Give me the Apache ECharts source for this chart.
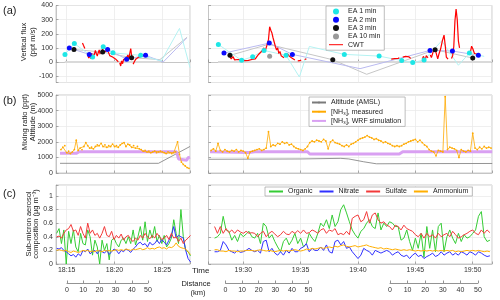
<!DOCTYPE html>
<html><head><meta charset="utf-8">
<script src="https://cdn.jsdelivr.net/npm/echarts@6/dist/echarts.min.js"></script>
<style>html,body{margin:0;padding:0;background:#fff}#c{width:500px;height:300px}</style>
</head><body><div id="c"></div><script>
const FONT = "'Liberation Sans', Arial, Helvetica, sans-serif";

// ---------- axes (time in minutes after 18:00) ----------
const xRangeLeft = [13.88, 27.9];
const xRangeRight = [86.97, 111.68];
const distanceTicks = [0, 10, 20, 30, 40, 50];

// ---------- (a) vertical flux [t, value, hasMarker] ----------
const ea1Left = [[14.82,54,1],[15.80,131,1],[17.71,35,1],[18.82,108,1],[19.84,65,1],[22.74,47,1],[24.9,7,0],[26.8,238,0],[27.9,-40,0]];
const ea2Left = [[15.27,99,1],[17.36,54,1],[19.28,89,1],[21.27,20,1],[23.25,47,1],[25.1,0,0],[27.55,170,0]];
const ea3Left = [[15.76,89,1],[18.76,70,1],[21.79,31,1],[24.75,17,0],[27.6,176,0]];
const ea1Right = [[87.83,124,1],[89.86,12,1],[90.82,38,1],[91.81,82,1],[93.73,47,1],[94.89,-106,0],[95.76,110,0],[98.81,54,1],[101.84,42,1],[103.81,10,1],[104.77,-4,1],[105.76,14,1],[107.3,150,0],[108.75,-23,0],[109.71,63,1],[111.0,40,0]];
const ea2Right = [[88.32,63,1],[92.27,134,1],[94.28,54,1],[100.18,-47,0],[106.28,82,1],[108.23,78,1],[110.49,47,1]];
const ea3Right = [[88.84,47,1],[92.2,125,0],[97.8,16,1],[100.76,-87,0],[106.72,87,1],[110.0,28,1]];
const ea10Right = [[92.3,41]];
const zeroLeft = [[14.8,0],[24.9,0]];
const zeroRight = [[87.8,0],[111.6,0]];
const cwtLeft = [
  [[16.65,135],[16.75,118],[16.9,95]],
  [[17.2,60],[17.3,28],[17.4,50],[17.5,25],[17.6,62],[17.7,40],[17.8,30],[17.9,55],[18.0,82],[18.1,60],[18.2,42],[18.3,66],[18.4,85],[18.5,55]],
  [[18.65,75],[18.75,92],[18.9,68],[19.0,58],[19.15,80]],
  [[19.35,72],[19.5,45],[19.65,55],[19.8,35],[19.95,42],[20.1,22],[20.25,15],[20.4,2]],
  [[20.55,-5],[20.65,-28],[20.75,8],[20.85,-12],[20.95,18],[21.1,8],[21.25,28],[21.4,50],[21.5,20],[21.6,62],[21.7,95],[21.8,40]],
  [[21.95,-15],[22.1,5],[22.25,22],[22.4,10],[22.55,35],[22.7,25],[22.85,42],[23.0,30],[23.15,48]]
];
const cwtRight = [
  [[88.8,42],[88.95,22],[89.1,38],[89.25,15],[89.4,28],[89.55,18],[89.7,32],[89.85,14],[90.0,22],[90.15,10],[90.3,18],[90.45,12],[90.6,25],[90.75,18],[90.9,30],[91.05,22],[91.2,40],[91.35,55],[91.5,48],[91.65,80],[91.8,100],[91.9,75],[92.05,115],[92.2,160],[92.3,250],[92.4,225],[92.5,205],[92.6,170],[92.7,140],[92.8,110],[92.9,85],[93.0,100],[93.1,60],[93.2,75],[93.3,45],[93.45,55],[93.55,30]],
  [[93.85,60],[94.0,42],[94.1,55],[94.2,30],[94.35,38],[94.5,15]],
  [[94.75,8],[94.9,22],[95.05,12]],
  [[95.35,18],[95.5,22]],
  [[102.9,20],[103.05,32],[103.2,24],[103.35,36],[103.5,26],[103.6,30]],
  [[103.9,35],[104.0,48],[104.15,40],[104.3,52],[104.45,36],[104.6,26]],
  [[105.6,20],[105.7,40],[105.85,12],[105.95,45],[106.1,30]],
  [[106.3,50],[106.4,32],[106.55,72],[106.7,98],[106.85,52],[106.95,22],[107.05,55],[107.2,92],[107.35,150],[107.5,190],[107.6,120],[107.7,35],[107.85,20]],
  [[108.15,25],[108.25,45],[108.35,110],[108.45,290],[108.55,375],[108.65,300],[108.75,150],[108.85,100]],
  [[109.8,70],[109.9,112],[110.0,96],[110.15,60],[110.3,50],[110.45,55]]
];

// ---------- (b) mixing ratio / altitude ----------
const altLeft = [[14.3,620],[24.6,620],[27.9,1700]];
const altRight = [[87.0,880],[95.0,900],[98.5,940],[99.2,900],[100.5,720],[101.6,590],[105.0,600],[111.7,610]];
const wrfLeft = [[14.3,1260],[16.0,1260],[16.3,1360],[26.5,1360],[26.7,900],[26.9,820],[27.55,820],[27.7,980],[27.9,1020]];
const wrfRight = [[87.1,1360],[90.5,1320],[91.0,1360],[95.6,1360],[95.8,1220],[103.6,1220],[103.9,1360],[111.7,1360]];
const nh3LeftStart = 14.4, nh3Step = 0.2;
const nh3Left = [1500,1650,1750,1300,1400,1250,1350,1500,2100,1450,
  1600,1500,1700,1950,1750,1600,1650,1550,1700,1800,
  1750,1900,1700,1800,1650,1750,1700,1850,1700,1750,
  1650,1800,1900,1950,1700,1850,1800,1650,1750,1600,
  1700,1550,1500,1400,1450,1350,1400,1300,1350,1400,
  1300,1350,1400,1350,1300,1250,1350,1300,1250,1300,
  1350,2000,1200,700,550,450,350,300];
const nh3RightStart = 87.2;
const nh3Right = [1450,1550,1400,1900,1450,1350,1500,1400,1350,1450,
  1400,1500,1350,1450,1400,1300,950,1350,1400,1450,
  1500,1550,1450,1500,1600,2650,1700,1800,1750,1900,
  1850,2000,1900,1950,1800,1850,1700,1600,1550,1500,
  1450,1550,1700,1950,2050,2000,2100,2050,2000,2150,
  2050,1550,2000,2100,1950,1900,1850,1750,1700,1800,
  1700,1850,1900,2000,2100,2200,2250,2300,2400,2300,
  2250,2150,2200,2100,2050,1950,2000,1900,1850,1750,
  1700,1750,1700,1750,1850,1900,2000,2050,2100,2150,
  2000,2100,1950,1800,1700,1500,1400,1350,1100,1450,
  1400,1350,4900,1500,1650,1600,1550,1450,1000,1500,
  1400,1350,1450,1400,2550,1600,1500,1650,1550,1700,
  1600,1650,1600];

// ---------- (c) aerosol composition ----------
const aeroLeftStart = 13.95, aeroRightStart = 87.5, aeroStep = 0.25;
const orgLeft = [0.45,0.52,0.3,0.5,0.0,0.48,0.3,0.5,0.25,0.18,
  0.45,0.3,0.28,0.5,0.4,0.13,0.35,0.25,0.0,0.35,
  0.2,0.3,0.06,0.35,0.38,0.3,0.25,0.35,0.38,0.3,
  0.4,0.3,0.5,0.28,0.4,0.55,0.35,0.62,0.33,0.5,
  0.38,0.55,0.33,0.42,0.3,0.42,0.25,0.3,0.38,0.65,
  0.45,0.3,0.8,0.4,0.2,0.18,0.12];
const nitLeft = [0.23,0.22,0.24,0.2,0.18,0.15,0.12,0.14,0.1,0.15,
  0.12,0.2,0.18,0.22,0.15,0.18,0.2,0.15,0.2,0.18,
  0.16,0.2,0.14,0.18,0.22,0.2,0.15,0.2,0.18,0.22,
  0.2,0.17,0.22,0.25,0.3,0.32,0.28,0.3,0.25,0.32,
  0.28,0.3,0.35,0.3,0.36,0.32,0.28,0.35,0.42,0.55,
  0.38,0.42,0.4,0.38,0.2,0.08,0.03];
const sulLeft = [0.4,0.41,0.38,0.45,0.5,0.52,0.58,0.48,0.5,0.42,
  0.55,0.45,0.38,0.6,0.45,0.5,0.42,0.45,0.38,0.45,
  0.55,0.42,0.4,0.48,0.36,0.42,0.38,0.44,0.35,0.4,
  0.42,0.36,0.33,0.38,0.35,0.42,0.38,0.45,0.4,0.37,
  0.42,0.38,0.45,0.4,0.36,0.38,0.42,0.36,0.45,0.38,
  0.4,0.33,0.38,0.3,0.35,0.38,0.42];
const ammLeft = [0.2,0.21,0.2,0.19,0.2,0.18,0.17,0.19,0.18,0.17,
  0.18,0.2,0.19,0.2,0.18,0.19,0.18,0.2,0.19,0.18,
  0.2,0.19,0.2,0.19,0.2,0.21,0.2,0.21,0.2,0.22,
  0.21,0.2,0.22,0.21,0.22,0.23,0.21,0.22,0.24,0.22,
  0.23,0.22,0.24,0.25,0.23,0.24,0.22,0.25,0.24,0.26,
  0.31,0.26,0.24,0.23,0.22,0.18,0.14];
const orgRight = [0.38,0.4,0.45,0.7,0.5,0.48,0.35,0.42,0.33,0.45,0.4,0.44,0.48,
  0.4,0.38,0.45,0.3,0.6,0.55,0.38,0.43,0.33,0.25,
  0.18,0.33,0.38,0.28,0.35,0.45,0.3,0.38,0.25,0.3,
  0.45,0.38,0.33,0.45,0.6,0.55,0.65,0.52,0.72,0.55,
  0.62,0.8,0.87,0.75,0.62,0.5,0.43,0.38,0.48,0.52,
  0.6,0.65,0.55,0.52,0.75,0.5,0.6,0.55,0.62,0.6,
  0.55,0.55,0.35,0.38,0.5,0.33,0.2,0.38,0.23,0.45,
  0.1,0.55,0.23,0.5,0.18,0.55,0.6,0.18,0.4,0.5,
  0.38,0.3,0.45,0.33,0.43,0.38,0.4,0.45,0.5,0.7,
  0.77,0.4,0.33,0.35];
const sulRight = [0.55,0.45,0.55,0.45,0.52,0.46,0.5,0.45,0.5,0.47,0.45,0.48,0.45,
  0.46,0.45,0.4,0.45,0.48,0.4,0.45,0.48,0.44,0.4,
  0.43,0.48,0.44,0.43,0.48,0.45,0.49,0.45,0.5,0.45,
  0.46,0.5,0.48,0.45,0.5,0.52,0.45,0.5,0.48,0.52,
  0.43,0.45,0.43,0.48,0.43,0.67,0.7,0.72,0.62,0.65,
  0.77,0.6,0.72,0.75,0.65,0.6,0.62,0.57,0.55,0.5,
  0.57,0.55,0.5,0.57,0.52,0.5,0.48,0.43,0.4,0.45,
  0.38,0.45,0.4,0.43,0.38,0.45,0.4,0.43,0.45,0.4,
  0.48,0.43,0.38,0.4,0.43,0.45,0.48,0.5,0.45,0.43,
  0.5,0.45,0.5,0.46];
const nitRight = [0.18,0.18,0.2,0.33,0.28,0.2,0.18,0.16,0.2,0.17,0.18,0.2,0.23,
  0.2,0.18,0.2,0.16,0.33,0.35,0.18,0.23,0.16,0.13,
  0.18,0.13,0.2,0.16,0.23,0.18,0.18,0.23,0.25,0.3,
  0.18,0.23,0.2,0.2,0.25,0.2,0.28,0.18,0.16,0.33,
  0.35,0.28,0.33,0.23,0.25,0.18,0.13,0.08,0.13,0.23,
  0.2,0.18,0.13,0.2,0.18,0.16,0.18,0.2,0.18,0.13,
  0.16,0.18,0.13,0.11,0.13,0.08,0.13,0.16,0.11,0.13,
  0.08,0.11,0.13,0.16,0.11,0.13,0.18,0.13,0.16,0.18,
  0.13,0.16,0.13,0.18,0.16,0.13,0.18,0.16,0.13,0.18,
  0.16,0.13,0.11,0.12];
const ammRight = [0.21,0.21,0.19,0.19,0.18,0.2,0.19,0.19,0.18,0.19,0.19,0.2,0.2,
  0.2,0.19,0.2,0.21,0.2,0.19,0.2,0.19,0.18,0.19,
  0.2,0.19,0.2,0.19,0.2,0.21,0.2,0.19,0.2,0.22,
  0.21,0.23,0.22,0.23,0.24,0.23,0.24,0.25,0.24,0.26,
  0.25,0.27,0.28,0.26,0.25,0.26,0.27,0.25,0.26,0.27,
  0.28,0.26,0.25,0.24,0.23,0.24,0.22,0.23,0.22,0.21,
  0.22,0.21,0.2,0.21,0.2,0.21,0.2,0.19,0.2,0.19,
  0.2,0.19,0.2,0.19,0.2,0.19,0.2,0.19,0.2,0.19,
  0.2,0.18,0.19,0.18,0.19,0.2,0.19,0.2,0.19,0.2,
  0.19,0.18,0.19,0.18];

// ---------- helpers ----------
const pts = a => a.map(p => [p[0], p[1]]);
const marks = a => a.filter(p => p[2]).map(p => [p[0], p[1]]);
const segs = list => { const o = []; list.forEach((s, i) => { if (i) o.push([null, null]); s.forEach(p => o.push(p)); }); return o; };
const regular = (t0, dt, vals) => vals.map((v, i) => [+(t0 + i * dt).toFixed(3), v]);

const C = {cyan:'#1ee6e6', cyanL:'#b4f2f2', blue:'#0a0aff', blueL:'#babaf0', black:'#111111', greyL:'#c6c6c6', grey10:'#9a9a9a', red:'#ff0000', zero:'#dadada',
  alt:'#7a7a7a', nh3:'#ffaa00', wrf:'#d9a0f2', org:'#35cc35', nit:'#3030ff', sul:'#f23a3a', amm:'#ffae00'};

const series = [];
function fluxSeries(g, ea1, ea2, ea3, ea10, cwt, zero) {
  const L = (name, data, color, w, z) => series.push({type:'line', name, xAxisIndex:g, yAxisIndex:g, data, symbol:'none', lineStyle:{color, width:w}, itemStyle:{color}, z, silent:true});
  L('zero'+g, zero, C.zero, 2, 1);
  L('ea3l'+g, pts(ea3), C.greyL, 1, 2);
  L('ea2l'+g, pts(ea2), C.blueL, 1, 2);
  L('ea1l'+g, pts(ea1), C.cyanL, 1, 2);
  L('CWT', segs(cwt), C.red, 1.2, 3);
  const S = (name, data, color) => series.push({type:'scatter', name, xAxisIndex:g, yAxisIndex:g, data, symbolSize:5, itemStyle:{color, opacity:1}, z:5});
  S('EA 1 min', marks(ea1), C.cyan);
  S('EA 2 min', marks(ea2), C.blue);
  S('EA 3 min', marks(ea3), C.black);
  S('EA 10 min', ea10, C.grey10);
}
fluxSeries(0, ea1Left, ea2Left, ea3Left, [], cwtLeft, zeroLeft);
fluxSeries(1, ea1Right, ea2Right, ea3Right, ea10Right, cwtRight, zeroRight);

const NH3M = '[NH\u2083], measured', NH3W = '[NH\u2083], WRF simulation', ALT = 'Altitude (AMSL)';
function mixSeries(g, alt, wrf, nh3) {
  series.push({type:'line', name:ALT, xAxisIndex:g, yAxisIndex:g, data:alt, symbol:'none', lineStyle:{color:C.alt, width:0.8}, itemStyle:{color:C.alt}, z:2});
  series.push({type:'line', name:NH3W, xAxisIndex:g, yAxisIndex:g, data:wrf, symbol:'none', lineStyle:{color:C.wrf, width:3}, itemStyle:{color:C.wrf}, z:3});
  series.push({type:'line', name:NH3M, xAxisIndex:g, yAxisIndex:g, data:nh3, symbol:'circle', symbolSize:1.8, showSymbol:true, lineStyle:{color:C.nh3, width:0.8}, itemStyle:{color:C.nh3}, z:4});
}
mixSeries(2, altLeft, wrfLeft, regular(nh3LeftStart, nh3Step, nh3Left));
mixSeries(3, altRight, wrfRight, regular(nh3RightStart, nh3Step, nh3Right));

const AERO = [['Organic', C.org], ['Nitrate', C.nit], ['Sulfate', C.sul], ['Ammonium', C.amm]];
function aeroSeries(g, t0, vals) {
  AERO.forEach(([n, c], k) =>
    series.push({type:'line', name:n, xAxisIndex:g, yAxisIndex:g, data:regular(t0, aeroStep, vals[k]), symbol:'none', lineStyle:{color:c, width:1}, itemStyle:{color:c}, z:2 + k}));
}
aeroSeries(4, aeroLeftStart, [orgLeft, nitLeft, sulLeft, ammLeft]);
aeroSeries(5, aeroRightStart, [orgRight, nitRight, sulRight, ammRight]);

// ---------- layout ----------
const colL = {left:56, width:134}, colR = {left:208.5, width:283.5};
const rows = [{top:5.5, height:77}, {top:95, height:78}, {top:185, height:79}];
const grids = [];
rows.forEach(r => { grids.push(Object.assign({}, colL, r)); grids.push(Object.assign({}, colR, r)); });
grids.forEach(g => { g.show = true; g.borderColor = '#bdbdbd'; g.borderWidth = 0.8; g.containLabel = false; });
grids.push({left:67, width:81, top:270, height:13, show:false});
grids.push({left:225.5, width:83, top:270, height:13, show:false});
grids.push({left:390, width:88, top:270, height:13, show:false});

const tickStyle = {show:true, inside:true, length:2.5, lineStyle:{color:'#8a8a8a', width:0.7}};
const splitStyle = {show:true, lineStyle:{color:'#ebebeb', width:0.8}};
const lineStyleAx = {show:true, lineStyle:{color:'#bdbdbd', width:0.8}};
const lab = {fontSize:7, color:'#333', fontFamily:FONT};

const timeFmt = v => { const r = Math.round(v); if (Math.abs(v - r) > 1e-6 || r % 5) return ''; const h = 18 + Math.floor(r / 60); return h + ':' + String(r % 60).padStart(2, '0'); };

const xAxis = [];
for (let i = 0; i < 6; i++) {
  const left = i % 2 === 0;
  const rng = left ? xRangeLeft : xRangeRight;
  xAxis.push({type:'value', gridIndex:i, min:rng[0], max:rng[1], splitNumber:left ? 3 : 5,
    axisLine:lineStyleAx, axisTick:tickStyle, splitLine:splitStyle,
    axisLabel:Object.assign({show:i >= 4, margin:3, formatter:timeFmt, showMinLabel:true, showMaxLabel:true, hideOverlap:false}, lab)});
}
[6, 7, 8].forEach(g => xAxis.push({type:'value', gridIndex:g, min:distanceTicks[0], max:distanceTicks[distanceTicks.length - 1], interval:distanceTicks[1] - distanceTicks[0],
  axisLine:{show:true, lineStyle:{color:'#777', width:0.8}}, axisTick:{show:true, inside:true, length:2.5, lineStyle:{color:'#777', width:0.8}},
  splitLine:{show:false}, axisLabel:Object.assign({margin:3.5, formatter:v => String(v)}, lab)}));

const fluxFmt = v => (Math.abs(v - Math.round(v)) < 1e-6 && Math.round(v) % 100 === 0) ? String(Math.round(v)) : '';
const aeroFmt = v => { const k = v * 5; return Math.abs(k - Math.round(k)) < 1e-6 ? String(+v.toFixed(1)) : ''; };
const yAxis = [];
for (let i = 0; i < 6; i++) {
  const row = Math.floor(i / 2), left = i % 2 === 0;
  const base = {type:'value', gridIndex:i, axisLine:lineStyleAx, axisTick:tickStyle, splitLine:splitStyle,
    axisLabel:Object.assign({show:left, margin:3}, lab)};
  if (row === 0) { Object.assign(base, {min:-145, max:400, splitNumber:5}); base.axisLabel.formatter = fluxFmt; }
  if (row === 1) { Object.assign(base, {min:0, max:5000, interval:1000}); base.axisLabel.formatter = v => String(Math.round(v)); }
  if (row === 2) { Object.assign(base, {min:0, max:1.16, interval:0.2}); base.axisLabel.formatter = aeroFmt; }
  yAxis.push(base);
}
[6, 7, 8].forEach(g => yAxis.push({type:'value', gridIndex:g, show:false}));

const LINE1 = 'path://M0,0L28,0L28,2L0,2Z';
const legBase = {selectedMode:false, backgroundColor:'#fff', borderColor:'#a0a0a0', borderWidth:0.7, borderRadius:0,
  itemWidth:14, textStyle:{fontSize:7, color:'#222', fontFamily:FONT}};
const legend = [
  Object.assign({}, legBase, {data:['EA 1 min', 'EA 2 min', 'EA 3 min', 'EA 10 min', {name:'CWT', icon:LINE1}], itemHeight:6, orient:'vertical', left:326, top:6, itemGap:1.3, padding:[2, 4, 2, 3]}),
  Object.assign({}, legBase, {data:[ALT, NH3M, NH3W], itemHeight:2.2, orient:'vertical', left:309, top:97, itemGap:2.2, padding:[2, 4, 2, 2]}),
  Object.assign({}, legBase, {data:AERO.map(a => a[0]), itemHeight:1.5, orient:'horizontal', left:265, top:187, itemGap:6, padding:[1, 4, 1, 3]})
];

const T = (text, x, y, size, rot, align) => ({type:'text', x, y, rotation:rot || 0, silent:true,
  style:{text, fontSize:size, fontFamily:FONT, fill:'#222', align:align || 'center', verticalAlign:'middle', textAlign:align || 'center', textVerticalAlign:'middle'}});
const R = Math.PI / 2;
const graphic = [
  T('(a)', 3, 11, 11, 0, 'left'), T('(b)', 3, 101, 11, 0, 'left'), T('(c)', 3, 194, 11, 0, 'left'),
  T('Vertical flux', 24, 42, 7.5, R), T('(ppt m/s)', 33, 42, 7.5, R),
  T('Mixing ratio (ppt)', 24.5, 122, 7.5, R), T('Altitude (m)', 33, 122, 7.5, R),
  T('Sub-micron aerosol', 28.5, 224, 7.5, R), T('composition (\u00b5g m\u207b\u00b3)', 36, 224, 7.5, R),
  T('Time', 192, 271, 8, 0, 'left'), T('Distance', 196, 284, 7.5), T('(km)', 198, 293, 7.5)
];

const chart = echarts.init(document.getElementById('c'), null, {renderer:'canvas'});
chart.setOption({animation:false, textStyle:{fontFamily:FONT}, grid:grids, xAxis, yAxis, legend, graphic, series});
</script></body></html>
